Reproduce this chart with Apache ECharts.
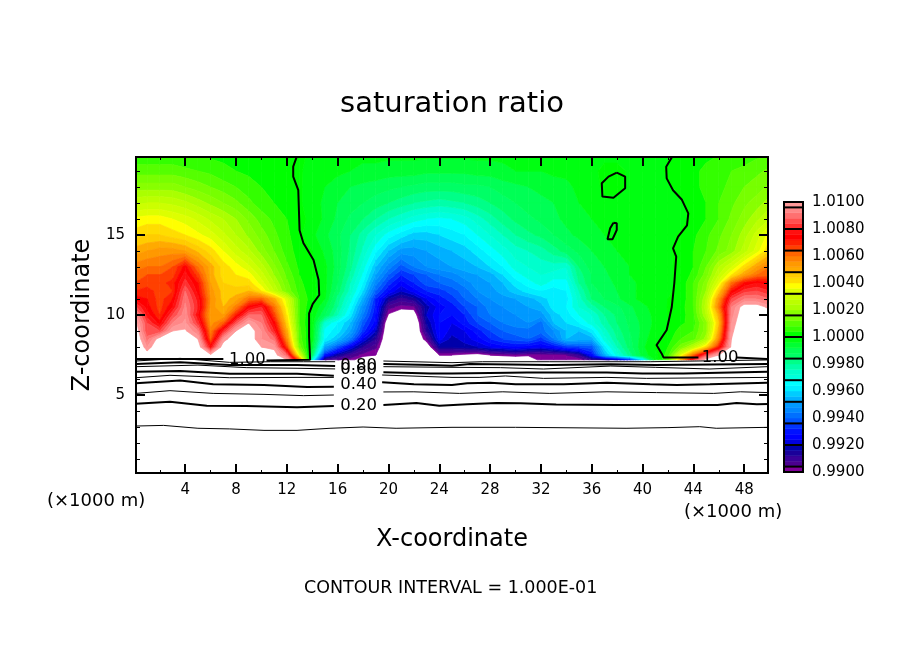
<!DOCTYPE html>
<html>
<head>
<meta charset="utf-8">
<title>saturation ratio</title>
<style>html,body{margin:0;padding:0;background:#fff}#main{width:904px;height:654px}</style>
<script src="https://cdn.jsdelivr.net/npm/echarts@6/dist/echarts.min.js"></script>
</head>
<body>
<div id="main"></div>
<script>
var FONT = 'DejaVu Sans';

// field, (ratio - 1) * 10000, columns x = 0..50 km
var xs = [];
for (var k = 0; k <= 50; k++) xs.push(k);
var zs = [20, 19, 18, 17, 16, 15, 14, 13, 12.5, 12, 11.5, 11, 10.5, 10, 9.5, 9, 8.5, 8, 7.5, 7.2];
var field = [
 [5,5,5,5,4,4,3,3,2,2,1, 1,1,0.5,-0.5,-2,-3,-3,-3,-3,-3, -3,-3,-3,-3,-3,-3,-3,-3,-3,-3, -3,-2,-2,-2,-2,-1,-1,-1,-1,-1, -0.5,-0.3,1,2,3,4,5,6,7,8],
 [10,10,10,10,9,8,7,5,4,3,3, 2,1,0.3,-1,-2,-3,-4,-5,-5,-6, -6,-6,-7,-7,-7,-7,-6,-6,-5,-4, -4,-4,-3,-3,-2,-1,1,1,-0.5,-1, -1,0.5,2,3,5,6,8,9,11,13],
 [18,18,18,18,16,14,12,10,8,6,4, 3,1,0.5,-2,-4,-6,-8,-9,-10,-11, -12,-13,-14,-14,-14,-13,-13,-12,-10,-9, -8,-7,-6,-5,-3,-2,1,1,-0.5,-1, -1,-0.5,1,3,5,7,9,12,14,17],
 [27,28,28,27,25,22,19,16,13,9,6, 4,2,0.5,-2,-5,-8,-10,-12,-14,-16, -18,-20,-21,-22,-21,-20,-18,-16,-14,-12, -10,-9,-8,-6,-4,-3,-1,-1,-1.5,-1.5, -1.5,-1,-0.5,1,4,8,11,15,18,22],
 [37,38,38,36,34,31,27,24,20,15,10, 7,4,1,-1,-5,-9,-13,-16,-20,-24, -27,-30,-32,-33,-32,-30,-26,-22,-18,-15, -13,-11,-9,-7,-5,-4,-1,-2,-2,-2, -2,-2,-1,1,4,8,13,18,23,28],
 [42,44,44,42,40,37,34,29,24,19,14, 9,5,1,-3,-7,-11,-16,-22,-28,-34, -38,-42,-42,-40,-38,-36,-32,-28,-24,-20, -17,-15,-12,-9,-7,-5,-4,-3,-3,-2.5, -2,-1,0.5,3,7,11,16,22,30,38],
 [50,52,54,54,52,47,42,36,30,25,18, 12,6,2,0,-5,-10,-17,-25,-35,-44, -50,-50,-48,-46,-44,-42,-38,-34,-30,-26, -24,-22,-18,-14,-11,-8,-6,-4,-3.5,-3, -2,-0.5,1,4,8,13,18,26,34,44],
 [58,60,60,64,74,60,50,42,38,33,26, 17,9,3,0.5,-3,-10,-19,-30,-44,-54, -62,-56,-52,-50,-48,-46,-44,-40,-36,-30, -28,-26,-26,-28,-16,-10,-8,-6,-4,-3, -2,-1,1.5,4,12,24,32,42,52,60],
 [62,64,64,66,78,66,50,42,40,38,30, 20,11,4,1,-3,-11,-21,-33,-48,-60, -68,-64,-60,-56,-54,-50,-48,-46,-40,-34, -30,-28,-30,-30,-18,-12,-9,-6,-4,-3, -2,-1,1.5,5,14,28,40,52,60,62],
 [64,66,66,70,82,72,52,44,42,42,34, 24,13,5,1,-3,-12,-24,-36,-54,-66, -74,-68,-62,-60,-58,-54,-50,-48,-44,-38, -34,-30,-34,-34,-20,-12,-10,-7,-5,-3, -2,-1,1,8,18,34,60,72,76,74],
 [68,70,66,68,88,74,54,46,46,48,40, 28,15,6,1.5,-3,-14,-26,-40,-60,-72, -80,-74,-68,-66,-62,-58,-52,-50,-46,-42, -38,-36,-38,-36,-24,-14,-10,-8,-5,-3, -2,-0.5,1,8,20,44,72,82,84,80],
 [76,72,66,72,91,78,56,46,50,60,62, 50,33,8,1.5,-4,-18,-30,-46,-68,-84, -90,-86,-76,-70,-66,-60,-56,-52,-50,-48, -46,-42,-38,-38,-26,-16,-12,-9,-5,-3, -2,0,1,8,24,54,84,92,92,88],
 [86,74,66,76,93,80,54,48,58,74,80, 60,36,8,0.3,-8,-20,-34,-52,-70,-94, -98,-97,-82,-74,-70,-64,-60,-54,-52,-50, -48,-46,-38,-36,-28,-22,-16,-13,-9,-5, -2.5,0.2,2,8,26,58,92,104,104,98],
 [98,78,68,84,95,76,52,52,70,88,88, 66,40,8,-1,-12,-24,-38,-56,-72,-101, -106,-106,-80,-72,-72,-68,-60,-56,-54,-52, -50,-50,-42,-38,-32,-28,-20,-15,-10,-6, -3,0,2,7,24,50,94,106,108,104],
 [104,84,74,92,97,82,54,62,86,100,92, 74,44,8,-1.5,-28,-36,-44,-62,-74,-110, -112,-112,-84,-72,-76,-70,-64,-60,-56,-54, -52,-58,-44,-40,-36,-30,-22,-16,-11,-7, -3,-0.3,3,6,18,46,96,108,110,108],
 [108,84,84,100,101,92,58,80,100,104,96, 80,50,9,-2,-34,-38,-48,-66,-80,-112, -112,-112,-88,-72,-78,-76,-70,-64,-60,-58, -58,-58,-52,-44,-44,-38,-26,-18,-12,-7, -2,0.5,6,8,18,50,98,110,112,112],
 [110,90,104,108,108,100,62,96,108,104,96, 90,56,10,-3,-36,-44,-56,-76,-88,-112, -112,-112,-96,-74,-82,-78,-74,-68,-64,-62, -60,-66,-56,-44,-46,-46,-30,-20,-13,-6, -1,2,8,10,22,56,100,112,112,112],
 [112,96,108,110,110,106,76,106,110,106,100, 98,66,14,-6,-48,-62,-76,-88,-95,-112, -112,-112,-108,-84,-84,-82,-80,-76,-74,-72, -74,-76,-72,-66,-64,-62,-38,-24,-14,-5, 0.3,4,14,26,42,70,102,112,112,112],
 [112,104,112,112,112,110,102,110,112,110,106, 104,88,32,-14,-70,-84,-92,-98,-100,-112, -112,-112,-112,-100,-100,-102,-104,-100,-98,-96, -98,-98,-97,-96,-90,-72,-46,-30,-18,-6, -1.5,6,34,60,84,100,110,112,112,112],
 [112,112,112,112,112,112,112,112,112,112,112, 112,100,60,-30,-92,-96,-98,-104,-110,-110, -110,-110,-110,-110,-110,-110,-110,-110,-110,-110, -110,-96,-98,-98,-100,-90,-90,-85,-70,-40, -3,10,50,80,104,110,112,112,112,112]
];

// colour bar bands, lowest first, each 0.0004 wide
var bandColors = [
 '#800099',
 '#4b0090','#3a0099','#1a0099','#0000aa',
 '#0000dd','#0000ff','#0011ff','#0033ff',
 '#0055ff','#0070ff','#0088ff','#0099ff',
 '#00b0ff','#00ccff','#00eeff','#00ffff',
 '#00ffdd','#00ffcc','#00ffaa','#00ff88',
 '#00ff66','#00ff55','#00ff33','#00ff11',
 '#00ff00','#33ff00','#55ff00','#77ff00',
 '#88ff00','#aaff00','#bbff00','#ccff00',
 '#ddff00','#ffff00','#ffdd00','#ffcc00',
 '#ffaa00','#ff9900','#ff8000','#ff6600',
 '#ff4000','#ff2000','#ff0000','#ff1010',
 '#ff3030','#ff5050','#ff7070','#ff8888',
 '#ff9a9a'
];
var barTicks = [0.9904,0.992,0.9936,0.9952,0.9968,0.9984,1.0,1.0016,1.0032,1.0048,1.0064,1.008,1.0096];
var barLabels = [0.99,0.992,0.994,0.996,0.998,1.0,1.002,1.004,1.006,1.008,1.01];

var xMajor = [4,8,12,16,20,24,28,32,36,40,44,48];
var xMinor = [2,6,10,14,18,22,26,30,34,38,42,46];
var zMajor = [5,10,15];
var zMinor = [1,2,3,4,6,7,8,9,11,12,13,14,16,17,18,19];

// contour lines, [x km, z km]
var c01 = [[0.1,3.06],[2.3,3.1],[5,2.92],[7.5,2.88],[10.2,2.79],[12.8,2.79],[15.4,2.92],[18,3],[20.6,2.92],[25,2.98],[30,2.98],[38.7,2.92],[42,2.96],[44.5,3.02],[45.8,2.92],[49.9,2.98]];
var c02 = [[0.1,4.46],[2.8,4.58],[5.7,4.33],[8.8,4.31],[12.8,4.23],[15.7,4.31]];
var c02b = [[19.6,4.375],[22.2,4.5],[24,4.33],[26.2,4.42],[28.5,4.5],[30.4,4.48],[33.2,4.4],[37.9,4.375],[45.9,4.375],[47.4,4.5],[49,4.42],[49.9,4.44]];
var c03 = [[0.1,5.1],[2.8,5.27],[6.2,5.1],[10.2,5.04],[13.3,4.96],[15.7,5]];
var c03b = [[19.6,5.19],[22,5.2],[25.6,5.1],[29,5.2],[32.7,5.1],[37.2,5.2],[41.1,5.15],[45.6,5.1],[47.7,5.2],[49.9,5.15]];
var c04 = [[0.1,5.73],[3.6,5.9],[6.2,5.67],[10.2,5.62],[13.6,5.5],[15.7,5.52]];
var c04b = [[19.5,5.79],[22,5.67],[25,5.62],[26.2,5.73],[28,5.77],[30,5.67],[33.8,5.67],[37.2,5.77],[40.6,5.67],[42.7,5.62],[45.3,5.67],[49.8,5.77]];
var c05 = [[0.1,6.08],[2.8,6.23],[7.5,6.08],[12.8,6.1],[15.7,6.1]];
var c05b = [[19.5,6.25],[25,6.1],[27.2,6.1],[29.2,6.19],[32.2,6.04],[37.2,6.1],[40.3,6.04],[49.8,6.1]];
var c06 = [[0.1,6.46],[3.6,6.5],[7.5,6.33],[12.8,6.33],[15.7,6.2]];
var c06b = [[19.6,6.42],[23.3,6.35],[25,6.35],[30.9,6.4],[37.2,6.4],[40,6.35],[43.2,6.35],[49.8,6.46]];
var c07 = [[0.1,6.77],[5,6.87],[8.8,6.71],[12.8,6.67],[15.8,6.63]];
var c07b = [[19.6,6.77],[25,6.73],[28.8,6.71],[32.2,6.625],[37.5,6.81],[41,6.73],[45.3,6.625],[49.8,6.77]];
var c08 = [[0.1,6.94],[3.6,7.04],[7.5,6.87],[12.8,6.87],[15.8,6.81]];
var c08b = [[19.6,6.94],[23.3,6.875],[25,6.83],[26.4,6.94],[32.7,6.875],[37.5,6.92],[41,6.875],[49.8,6.94]];
var c09 = [[0.1,7.125],[3.6,7.29],[7.5,7.04],[10.7,7.08],[13.3,7.08],[15.8,7.08]];
var c09b = [[19.6,7.125],[25,7.02],[27.4,7.08],[32.7,7.08],[40.6,7.08],[49.8,7.19]];
var c10 = [[0.1,7.25],[7,7.25]];
var c10b = [[10.4,7.15],[13.83,7.2],[13.75,8.65],[13.75,10.1],[14.04,10.7],[14.55,11.25],[14.5,12.19],[14.1,13.44],[13.3,14.5],[13,15.3],[12.9,17.8],[12.5,18.65],[12.5,19.27],[12.78,19.9]];
var c10c = [[44.4,7.35],[41.65,7.35],[41.5,7.6],[41.1,8.12],[41.9,9.06],[42.3,10.5],[42.5,12],[42.65,13.65],[42.4,14.17],[42.8,14.9],[43.5,15.6],[43.6,16.35],[43.1,17.2],[42.4,17.8],[41.9,18.54],[41.86,19.27],[42.3,19.85]];
var c10d = [[47.4,7.35],[49.8,7.25]];
var loopA = [[37.97,18.9],[37.32,18.65],[36.79,18.23],[36.84,17.4],[37.71,17.33],[38.63,17.92],[38.63,18.65],[37.97,18.9]];
var loopB = [[37.71,15.77],[37.45,15.42],[37.24,14.73],[37.63,14.73],[37.97,15.31],[37.97,15.73],[37.71,15.77]];
var thinLines = [c01, c03, c03b, c05, c05b, c07, c07b, c09, c09b];
var thickLines = [c02, c02b, c04, c04b, c06, c06b, c08, c08b, c10, c10b, c10c, c10d, loopA, loopB];
var lineLabels = [[8.9,7.2,'1.00'],[46.1,7.3,'1.00'],[17.65,6.83,'0.80'],[17.65,6.56,'0.60'],[17.65,5.67,'0.40'],[17.65,4.33,'0.20']];

var cells = [];
for (var r = 0; r < zs.length - 1; r++) {
	for (var c = 0; c < xs.length - 1; c++) {
		cells.push([xs[c], zs[r], c, r]);
	}
}

// keep the part of a polygon where keepAbove says so, vertices are [x,z,v]
function cut(poly, level, keepAbove) {
	var out = [];
	for (var i = 0; i < poly.length; i++) {
		var a = poly[i], b = poly[(i + 1) % poly.length];
		var ina = keepAbove ? a[2] >= level : a[2] < level;
		var inb = keepAbove ? b[2] >= level : b[2] < level;
		if (ina) out.push(a);
		if (ina !== inb) {
			var t = (level - a[2]) / (b[2] - a[2]);
			out.push([a[0] + t * (b[0] - a[0]), a[1] + t * (b[1] - a[1]), level]);
		}
	}
	return out;
}

function renderCell(params, api) {
	var c = api.value(2), r = api.value(3);
	var quad = [
		[xs[c], zs[r], field[r][c]],
		[xs[c + 1], zs[r], field[r][c + 1]],
		[xs[c + 1], zs[r + 1], field[r + 1][c + 1]],
		[xs[c], zs[r + 1], field[r + 1][c]]
	];
	var children = [];
	for (var b = 0; b < bandColors.length; b++) {
		var lo = -100 + 4 * b, hi = lo + 4;
		var p = cut(quad, lo, true);
		if (p.length) p = cut(p, hi, false);
		if (p.length < 3) continue;
		var pts = [];
		for (var i = 0; i < p.length; i++) pts.push(api.coord([p[i][0], p[i][1]]));
		children.push({
			type: 'polygon',
			shape: { points: pts },
			style: { fill: bandColors[b], stroke: bandColors[b], lineWidth: 0.7 },
			silent: true
		});
	}
	return { type: 'group', children: children };
}

function renderBar(params, api) {
	var lo = api.value(0), hi = api.value(1);
	var top = api.coord([0, hi]), bottom = api.coord([1, lo]);
	return {
		type: 'rect',
		shape: { x: top[0], y: top[1], width: bottom[0] - top[0], height: bottom[1] - top[1] },
		style: { fill: bandColors[api.value(2)], stroke: bandColors[api.value(2)], lineWidth: 0.5 }
	};
}

function renderBarTick(params, api) {
	var a = api.coord([0, api.value(0)]), b = api.coord([1, api.value(0)]);
	return {
		type: 'line',
		shape: { x1: a[0], y1: a[1], x2: b[0], y2: b[1] },
		style: { stroke: '#000', lineWidth: 2 }
	};
}

function renderBarFrame(params, api) {
	var top = api.coord([0, api.value(1)]), bottom = api.coord([1, api.value(0)]);
	return {
		type: 'rect',
		shape: { x: top[0], y: top[1], width: bottom[0] - top[0], height: bottom[1] - top[1] },
		style: { fill: 'none', stroke: '#000', lineWidth: 2 }
	};
}

var barData = bandColors.map(function (col, i) {
	return [0.99 + 0.0004 * i, 0.99 + 0.0004 * (i + 1), i];
});

function plotAxis(pos, major, vals, len, extra) {
	return {
		type: 'value',
		gridIndex: 0,
		position: pos,
		min: extra.min,
		max: extra.max,
		z: 6,
		splitLine: { show: false },
		axisLine: { show: true, onZero: false, lineStyle: { color: '#000', width: 2 } },
		axisTick: { show: true, inside: true, length: len, customValues: vals, lineStyle: { color: '#000', width: major ? 2 : 1 } },
		axisLabel: { show: false }
	};
}

var xRange = { min: 0.125, max: 49.875 };
var zRange = { min: 0.125, max: 19.875 };

var xAxes = [
	plotAxis('bottom', true, xMajor, 9, xRange),
	plotAxis('bottom', false, xMinor, 3, xRange),
	plotAxis('top', true, xMajor, 9, xRange),
	plotAxis('top', false, xMinor, 3, xRange)
];
xAxes[0].axisLabel = { show: true, customValues: xMajor, color: '#000', fontFamily: FONT, fontSize: 15, margin: 10 };
xAxes[0].name = 'X-coordinate';
xAxes[0].nameLocation = 'middle';
xAxes[0].nameGap = 55;
xAxes[0].nameTextStyle = { color: '#000', fontFamily: FONT, fontSize: 24 };
xAxes.push({ type: 'value', gridIndex: 1, min: 0, max: 1, show: false });

var yAxes = [
	plotAxis('left', true, zMajor, 9, zRange),
	plotAxis('left', false, zMinor, 4, zRange),
	plotAxis('right', true, zMajor, 9, zRange),
	plotAxis('right', false, zMinor, 4, zRange)
];
yAxes[0].axisLabel = { show: true, customValues: zMajor, color: '#000', fontFamily: FONT, fontSize: 15, margin: 11 };
yAxes[0].name = 'Z-coordinate';
yAxes[0].nameLocation = 'middle';
yAxes[0].nameGap = 40;
yAxes[0].nameTextStyle = { color: '#000', fontFamily: FONT, fontSize: 24 };
yAxes.push({
	type: 'value',
	gridIndex: 1,
	position: 'right',
	min: 0.99,
	max: 1.01,
	splitLine: { show: false },
	axisLine: { show: false },
	axisTick: { show: false },
	axisLabel: {
		customValues: barLabels,
		color: '#000',
		fontFamily: FONT,
		fontSize: 15,
		margin: 9,
		formatter: function (v) { return v.toFixed(4); }
	}
});

var series = [{
	type: 'custom',
	xAxisIndex: 0,
	yAxisIndex: 0,
	clip: true,
	silent: true,
	renderItem: renderCell,
	encode: { x: 0, y: 1 },
	data: cells,
	z: 1
}, {
	type: 'custom',
	xAxisIndex: 4,
	yAxisIndex: 4,
	silent: true,
	renderItem: renderBar,
	encode: { y: [0, 1] },
	data: barData,
	z: 1
}, {
	type: 'custom',
	xAxisIndex: 4,
	yAxisIndex: 4,
	silent: true,
	renderItem: renderBarTick,
	encode: { y: 0 },
	data: barTicks.map(function (v) { return [v]; }),
	z: 3
}, {
	type: 'custom',
	xAxisIndex: 4,
	yAxisIndex: 4,
	silent: true,
	renderItem: renderBarFrame,
	encode: { y: [0, 1] },
	data: [[0.99, 1.01]],
	z: 3
}];

thinLines.forEach(function (seg) {
	series.push({ type: 'line', xAxisIndex: 0, yAxisIndex: 0, data: seg, showSymbol: false, silent: true, z: 4, lineStyle: { color: '#000', width: 1 } });
});
thickLines.forEach(function (seg) {
	series.push({ type: 'line', xAxisIndex: 0, yAxisIndex: 0, data: seg, showSymbol: false, silent: true, z: 4, lineStyle: { color: '#000', width: 2 } });
});
series.push({
	type: 'scatter',
	xAxisIndex: 0,
	yAxisIndex: 0,
	symbolSize: 0,
	silent: true,
	z: 5,
	itemStyle: { opacity: 1 },
	data: lineLabels,
	label: {
		show: true,
		position: 'inside',
		color: '#000',
		fontFamily: FONT,
		fontSize: 16.5,
		textBorderWidth: 0,
		opacity: 1,
		formatter: function (p) { return p.value[2]; }
	}
});

var chart = echarts.init(document.getElementById('main'), null, { renderer: 'canvas' });
chart.setOption({
	animation: false,
	backgroundColor: '#fff',
	title: {
		text: 'saturation ratio',
		left: 447,
		top: 85,
		textAlign: 'center',
		textStyle: { color: '#000', fontFamily: FONT, fontWeight: 'normal', fontSize: 29 }
	},
	grid: [
		{ left: 136, top: 157, width: 632, height: 316 },
		{ left: 784, top: 202, width: 19, height: 270 }
	],
	xAxis: xAxes,
	yAxis: yAxes,
	series: series,
	graphic: [
		{ type: 'text', left: 47, top: 492, style: { text: '(\u00d71000 m)', fill: '#000', font: '18px "' + FONT + '"' } },
		{ type: 'text', left: 684, top: 503, style: { text: '(\u00d71000 m)', fill: '#000', font: '18px "' + FONT + '"' } },
		{ type: 'text', left: 304, top: 579, style: { text: 'CONTOUR INTERVAL = 1.000E-01', fill: '#000', font: '17.5px "' + FONT + '"' } }
	]
});
</script>
</body>
</html>
